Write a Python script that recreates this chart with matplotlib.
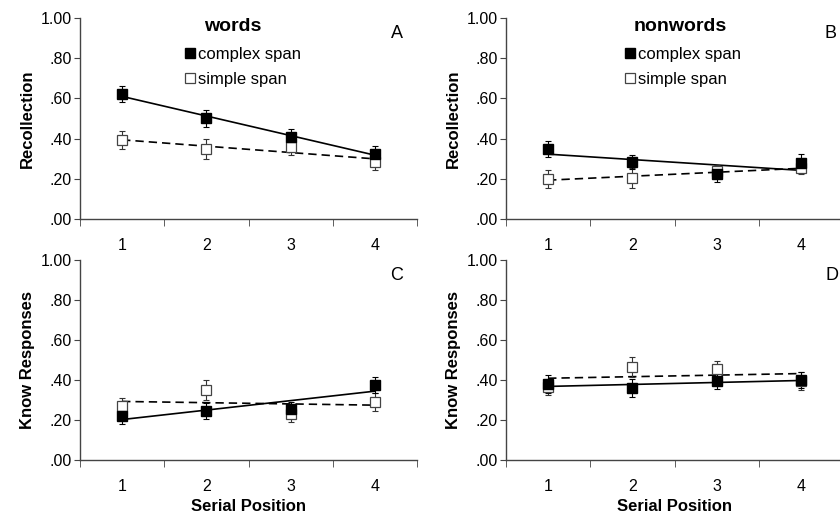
import numpy as np
import matplotlib
matplotlib.use("Agg")
import matplotlib.pyplot as plt

plt.rcParams['font.family'] = ['Liberation Sans', 'DejaVu Sans']

positions = [1, 2, 3, 4]

# panel A: words, recollection
a_complex = [0.62, 0.50, 0.41, 0.325]
a_complex_err = [0.04, 0.04, 0.04, 0.04]
a_simple = [0.394, 0.349, 0.357, 0.286]
a_simple_err = [0.045, 0.05, 0.037, 0.04]

# panel B: nonwords, recollection
b_complex = [0.347, 0.282, 0.223, 0.277]
b_complex_err = [0.04, 0.035, 0.04, 0.045]
b_simple = [0.198, 0.203, 0.238, 0.252]
b_simple_err = [0.045, 0.05, 0.03, 0.03]

# panel C: words, know responses
c_complex = [0.22, 0.243, 0.257, 0.373]
c_complex_err = [0.04, 0.04, 0.035, 0.04]
c_simple = [0.268, 0.35, 0.228, 0.288]
c_simple_err = [0.044, 0.05, 0.04, 0.045]

# panel D: nonwords, know responses
d_complex = [0.378, 0.36, 0.393, 0.40]
d_complex_err = [0.045, 0.043, 0.04, 0.04]
d_simple = [0.367, 0.463, 0.457, 0.395]
d_simple_err = [0.04, 0.05, 0.04, 0.045]

yticks = [0.0, 0.2, 0.4, 0.6, 0.8, 1.0]
ytick_labels = ['.00', '.20', '.40', '.60', '.80', '1.00']

fig = plt.figure(figsize=(8.4, 5.13), dpi=100)

W, H = 840, 513
def add_ax(left_px, top_px, right_px, bottom_px):
    return fig.add_axes([left_px / W, 1 - bottom_px / H,
                         (right_px - left_px) / W, (bottom_px - top_px) / H])

axA = add_ax(80, 18, 417, 219)
axB = add_ax(506, 18, 843, 219)
axC = add_ax(80, 260, 417, 460)
axD = add_ax(506, 260, 843, 460)

# (ax, complex, err, simple, err, ylabel, letter, letter_x, title, title_x, legend_x)
panels = [
    (axA, a_complex, a_complex_err, a_simple, a_simple_err, 'Recollection', 'A', 0.94, 'words', 0.454, 0.312),
    (axB, b_complex, b_complex_err, b_simple, b_simple_err, 'Recollection', 'B', 0.964, 'nonwords', 0.516, 0.353),
    (axC, c_complex, c_complex_err, c_simple, c_simple_err, 'Know Responses', 'C', 0.94, None, 0, 0),
    (axD, d_complex, d_complex_err, d_simple, d_simple_err, 'Know Responses', 'D', 0.967, None, 0, 0),
]

x = np.array(positions)
xx = np.array([1, 4])
for ax, comp, comp_err, simp, simp_err, ylab, letter, lx, title, tx, legx in panels:
    # linear trend lines
    pc = np.polyfit(x, comp, 1)
    ps = np.polyfit(x, simp, 1)
    ax.plot(xx, np.polyval(pc, xx), color='black', lw=1.2, zorder=2)
    ax.plot(xx, np.polyval(ps, xx), color='black', lw=1.2, ls=(0, (5, 3)), zorder=2)

    ax.errorbar(x, simp, yerr=simp_err, fmt='none', ecolor='#333333',
                elinewidth=0.8, capsize=2, capthick=0.8, zorder=3)
    ax.errorbar(x, comp, yerr=comp_err, fmt='none', ecolor='black',
                elinewidth=0.8, capsize=2, capthick=0.8, zorder=3)
    ax.plot(x, simp, ls='none', marker='s', ms=6.5, mfc='white', mec='#444444',
            mew=0.9, zorder=4, label='simple span')
    ax.plot(x, comp, ls='none', marker='s', ms=6.5, mfc='black', mec='black',
            zorder=5, label='complex span')

    ax.set_xlim(0.5, 4.5)
    ax.set_ylim(0, 1.0)
    ax.set_yticks(yticks)
    ax.set_yticklabels(ytick_labels)
    ax.set_xticks(positions)
    ax.set_xticklabels([str(p) for p in positions])
    ax.set_xticks([0.5, 1.5, 2.5, 3.5, 4.5], minor=True)
    ax.tick_params(axis='x', which='major', length=0, pad=14, labelsize=11.5)
    ax.tick_params(axis='x', which='minor', length=5, direction='out', color='#444444')
    ax.tick_params(axis='y', length=4, direction='out', labelsize=11.5, color='#444444', pad=2)
    for s in ['top', 'right']:
        ax.spines[s].set_visible(False)
    for s in ['left', 'bottom']:
        ax.spines[s].set_color('#444444')
        ax.spines[s].set_linewidth(1.0)
    ax.set_ylabel(ylab, fontsize=12, fontweight='bold', labelpad=4)
    ax.text(lx, 0.925, letter, transform=ax.transAxes, fontsize=13,
            ha='center', va='center')
    if title is not None:
        ax.text(tx, 0.957, title, transform=ax.transAxes, fontsize=14,
                fontweight='bold', ha='center', va='center')
        handles, labels = ax.get_legend_handles_labels()
        ax.legend(handles[::-1], labels[::-1], loc='upper left',
                  bbox_to_anchor=(legx, 0.855), frameon=False, fontsize=12,
                  handlelength=0.6, handletextpad=0.2, borderaxespad=0,
                  borderpad=0, labelspacing=0.6, markerscale=1.0)

axC.set_xlabel('Serial Position', fontsize=12, fontweight='bold', labelpad=3)
axD.set_xlabel('Serial Position', fontsize=12, fontweight='bold', labelpad=3)

fig.savefig('out.png', dpi=100)
